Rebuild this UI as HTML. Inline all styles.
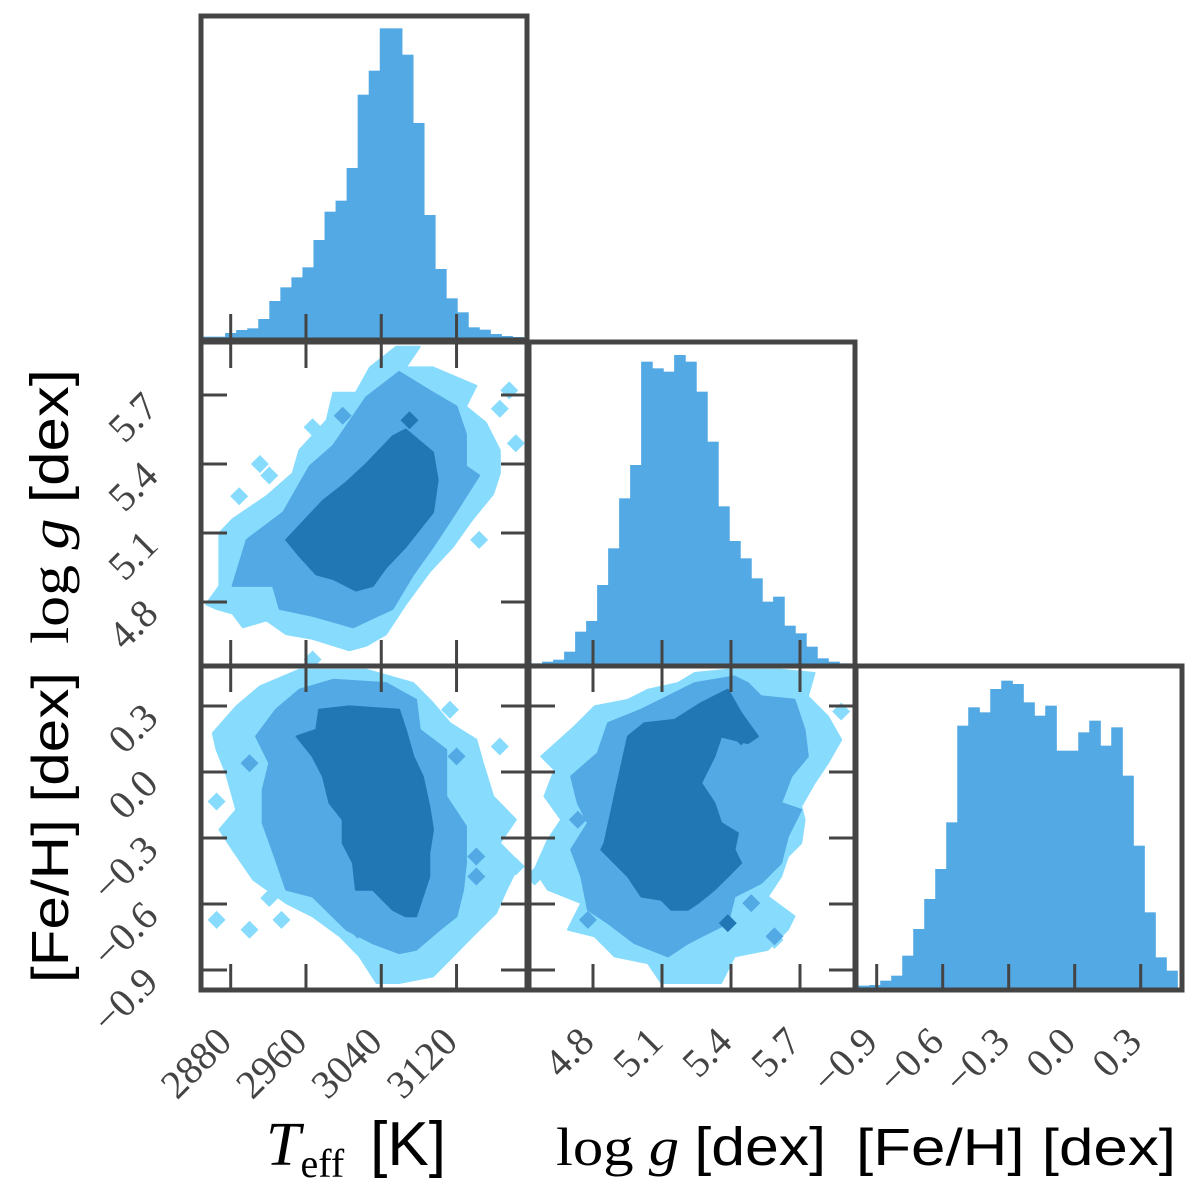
<!DOCTYPE html>
<html><head><meta charset="utf-8"><style>
html,body{margin:0;padding:0;background:#fff;}
svg{display:block;}
.tl{font-family:"Liberation Serif",serif;font-size:40px;fill:#444;}
.al{font-family:"Liberation Sans",sans-serif;font-size:52px;fill:#000;}
.as{font-family:"Liberation Serif",serif;font-size:54px;fill:#000;}
</style></head><body>
<svg id="c" width="1200" height="1195" viewBox="0 0 1200 1195" xmlns="http://www.w3.org/2000/svg">
<g id="layer"></g>
<text class="as" x="266" y="1165"><tspan font-style="italic" font-size="62">T</tspan><tspan font-size="40" dy="12">eff</tspan><tspan dy="-12" dx="26" style="font-family:'Liberation Sans',sans-serif;font-size:62px">[K]</tspan></text>
<text class="as" x="556" y="1165" textLength="270" lengthAdjust="spacingAndGlyphs">log <tspan font-style="italic">g</tspan> <tspan style="font-family:'Liberation Sans',sans-serif">[dex]</tspan></text>
<text class="al" x="856" y="1165" textLength="320" lengthAdjust="spacingAndGlyphs">[Fe/H] [dex]</text>
<text class="as" transform="translate(68,644) rotate(-90)" textLength="275" lengthAdjust="spacingAndGlyphs">log <tspan font-style="italic">g</tspan> <tspan style="font-family:'Liberation Sans',sans-serif">[dex]</tspan></text>
<text class="al" transform="translate(68,983) rotate(-90)" textLength="311" lengthAdjust="spacingAndGlyphs">[Fe/H] [dex]</text>
</svg>
<script>
// ---- data ----
const teffTicks = [2880, 2960, 3040, 3120];
const loggTicks = [4.8, 5.1, 5.4, 5.7];
const fehTicks = [-0.9, -0.6, -0.3, 0.0, 0.3];
const teffTickLabels = ["2880", "2960", "3040", "3120"];
const loggTickLabels = ["4.8", "5.1", "5.4", "5.7"];
const fehTickLabels = ["\u22120.9", "\u22120.6", "\u22120.3", "0.0", "0.3"];
const teffRange = [2850.6, 3191];
const loggRange = [4.531, 5.918];
const fehRange = [-0.984, 0.466];
const teffCounts = [4,4,15,24,29,57,111,152,182,212,294,379,412,510,730,802,929,929,850,645,369,207,119,77,32,25,12,6,3];
const loggCounts = [2,7,13,37,97,129,237,347,497,597,907,887,877,927,907,817,667,473,369,317,257,187,202,115,92,52,17,7,2];
const fehCounts = [7,9,22,37,97,177,267,357,497,787,842,827,897,922,912,857,817,847,712,712,767,802,727,782,637,427,227,92,52];
// contour polygons (x value, y value pairs)
const tgOuter = [[2854,4.79],[2868,4.87],[2868,5.10],[2882,5.16],[2918,5.26],[2946,5.36],[2953,5.46],[2982,5.59],[2989,5.71],[3013,5.71],[3028,5.82],[3056,5.91],[3081,5.91],[3066,5.82],[3095,5.82],[3141,5.74],[3130,5.65],[3151,5.58],[3166,5.46],[3166,5.36],[3159,5.27],[3137,5.16],[3116,5.04],[3091,4.93],[3066,4.79],[3045,4.66],[3024,4.61],[3006,4.59],[2967,4.64],[2939,4.66],[2918,4.72],[2893,4.69],[2882,4.75],[2865,4.77]];
const tgOuterBlobs = [[3176,5.72],[3166,5.64],[3183,5.49],[2889,5.26],[2911,5.40],[2921,5.35],[2967,5.56],[3144,5.07],[2967,4.55]];
const tgMid = [[2882,4.87],[2897,5.07],[2936,5.19],[2964,5.39],[2989,5.48],[3024,5.69],[3059,5.80],[3095,5.71],[3120,5.65],[3130,5.53],[3130,5.39],[3144,5.35],[3116,5.17],[3095,5.04],[3074,4.92],[3052,4.77],[3010,4.69],[2967,4.74],[2932,4.77],[2925,4.87]];
const tgMidBlobs = [[2999,5.61]];
const tgInner = [[2939,5.07],[2978,5.24],[3003,5.32],[3024,5.40],[3038,5.46],[3052,5.52],[3066,5.55],[3095,5.45],[3100,5.33],[3095,5.19],[3066,5.04],[3045,4.95],[3031,4.87],[3013,4.85],[2989,4.90],[2971,4.92],[2953,5.00]];
const tgInnerBlobs = [[3070,5.59]];
const tfOuter = [[2861,0.177],[2886,0.298],[2911,0.389],[2953,0.465],[3024,0.465],[3074,0.404],[3095,0.313],[3113,0.222],[3141,0.147],[3148,0.040],[3159,-0.111],[3183,-0.217],[3166,-0.323],[3187,-0.414],[3173,-0.535],[3162,-0.641],[3137,-0.747],[3116,-0.838],[3095,-0.929],[3059,-0.959],[3035,-0.959],[3017,-0.838],[2996,-0.747],[2967,-0.656],[2939,-0.596],[2904,-0.490],[2882,-0.353],[2868,-0.262],[2886,-0.172],[2875,-0.005],[2865,0.101]];
const tfOuterBlobs = [[2865,-0.134],[2865,-0.672],[2900,-0.717],[2921,-0.573],[2934,-0.672],[3113,0.283],[3166,0.116],[3183,-0.429]];
const tfMid = [[2907,0.162],[2928,0.283],[2953,0.374],[2989,0.419],[3045,0.404],[3077,0.328],[3081,0.192],[3109,0.101],[3109,-0.111],[3130,-0.247],[3130,-0.414],[3127,-0.535],[3120,-0.656],[3102,-0.717],[3077,-0.808],[3059,-0.823],[3031,-0.778],[3003,-0.717],[2967,-0.566],[2939,-0.535],[2928,-0.399],[2914,-0.232],[2914,-0.081],[2921,0.040]];
const tfMidBlobs = [[2900,0.040],[3120,0.071],[3141,-0.384],[3141,-0.475],[3015,-0.717],[3028,0.313]];
const tfInner = [[2950,0.162],[2971,0.192],[2974,0.283],[3006,0.298],[3059,0.283],[3066,0.192],[3074,0.071],[3084,-0.020],[3091,-0.156],[3095,-0.262],[3091,-0.368],[3091,-0.475],[3084,-0.566],[3077,-0.656],[3066,-0.656],[3052,-0.626],[3031,-0.535],[3013,-0.535],[3010,-0.414],[2999,-0.323],[2999,-0.217],[2985,-0.141],[2978,-0.020],[2967,0.071]];
const tfInnerBlobs = [];
const gfOuter = [[4.575,0.071],[4.720,0.207],[4.807,0.298],[4.952,0.328],[5.039,0.374],[5.169,0.404],[5.242,0.450],[5.386,0.465],[5.618,0.465],[5.763,0.450],[5.734,0.344],[5.821,0.253],[5.879,0.147],[5.821,0.040],[5.763,-0.050],[5.705,-0.156],[5.720,-0.217],[5.705,-0.323],[5.647,-0.384],[5.618,-0.475],[5.560,-0.566],[5.676,-0.656],[5.647,-0.717],[5.560,-0.808],[5.415,-0.838],[5.357,-0.959],[5.097,-0.959],[5.039,-0.869],[4.894,-0.838],[4.807,-0.747],[4.691,-0.717],[4.749,-0.596],[4.604,-0.535],[4.546,-0.444],[4.604,-0.308],[4.662,-0.217],[4.589,-0.111],[4.633,0.010]];
const gfOuterBlobs = [[5.879,0.275],[4.546,-0.475],[5.589,-0.763]];
const gfMid = [[4.705,-0.020],[4.821,0.086],[4.865,0.222],[5.010,0.283],[5.242,0.404],[5.415,0.434],[5.473,0.404],[5.531,0.344],[5.676,0.328],[5.720,0.192],[5.734,0.071],[5.662,-0.020],[5.618,-0.141],[5.705,-0.172],[5.647,-0.293],[5.618,-0.414],[5.531,-0.505],[5.415,-0.566],[5.386,-0.687],[5.271,-0.747],[5.213,-0.778],[5.126,-0.838],[4.981,-0.778],[4.865,-0.687],[4.778,-0.626],[4.749,-0.475],[4.705,-0.353],[4.778,-0.232],[4.734,-0.141]];
const gfMidBlobs = [[4.734,-0.217],[4.778,-0.672],[5.488,-0.596],[5.589,-0.747]];
const gfInner = [[4.850,-0.323],[4.894,-0.111],[4.952,0.162],[5.024,0.222],[5.155,0.237],[5.270,0.313],[5.386,0.374],[5.444,0.268],[5.517,0.162],[5.473,0.131],[5.357,0.162],[5.328,0.071],[5.270,-0.050],[5.328,-0.141],[5.357,-0.232],[5.430,-0.278],[5.415,-0.353],[5.444,-0.414],[5.386,-0.475],[5.328,-0.535],[5.256,-0.596],[5.213,-0.626],[5.140,-0.626],[5.097,-0.581],[5.010,-0.566],[4.952,-0.475],[4.894,-0.414],[4.836,-0.353]];
const gfInnerBlobs = [[5.386,-0.687],[5.444,0.162]];

// ---- layout / scales ----
const NS = "http://www.w3.org/2000/svg";
const layer = document.getElementById('layer');
const colX = [203, 531, 858], rowY = [18, 344, 668], W = 322, H = 320;
const sx = [v => 230.7 + (v - 2880) * 0.941, v => 593 + (v - 4.8) * 230, v => 876.7 + (v + 0.9) * 220];
const sy = [null, v => 395 - (v - 5.7) * 230, v => 706 - (v - 0.3) * 220];
const C_LIGHT = "#87dcfd", C_MID = "#52a9e4", C_DARK = "#2077b4", AX = "#444";
function mk(tag, attrs, parent) {
  const e = document.createElementNS(NS, tag);
  for (const k in attrs) e.setAttribute(k, attrs[k]);
  (parent || layer).appendChild(e);
  return e;
}
function clipFor(c, r) {
  const id = 'clip' + c + r;
  const cp = mk('clipPath', {id: id});
  mk('rect', {x: colX[c], y: rowY[r], width: W, height: H}, cp);
  return 'url(#' + id + ')';
}
function hist(c, counts, range) {
  const g = mk('g', {'clip-path': clipFor(c, c)});
  
  
  const bottom = rowY[c] + H;
  const bw = (range[1] - range[0]) / counts.length;
  for (let i = 0; i < counts.length; i++) {
    const x0 = sx[c](range[0] + i * bw), x1 = sx[c](range[0] + (i + 1) * bw);
    const h = counts[i] / 3;
    const rct = mk('rect', {x: x0, y: bottom - h, width: x1 - x0 + 0.6, height: h, fill: C_MID}, g);
    
    
  }
}
function poly(g, pts, c, r, fill) {
  const d = pts.map((p, i) => (i ? 'L' : 'M') + sx[c](p[0]).toFixed(1) + ',' + sy[r](p[1]).toFixed(1)).join('') + 'Z';
  const p = mk('path', {d: d, fill: fill, 'stroke': fill, 'stroke-width': 2, 'stroke-linejoin': 'round'}, g);
  
  
}
function blobs(g, pts, c, r, fill) {
  pts.forEach(p => {
    const x = sx[c](p[0]), y = sy[r](p[1]), s = 9;
    const b = mk('path', {d: `M${x},${y - s}L${x + s},${y}L${x},${y + s}L${x - s},${y}Z`, fill: fill}, g);
    
    
  });
}
function contour(c, r, outer, ob, mid, mb, inner, ib) {
  const g = mk('g', {'clip-path': clipFor(c, r)});
  
  
  poly(g, outer, c, r, C_LIGHT); blobs(g, ob, c, r, C_LIGHT);
  poly(g, mid, c, r, C_MID); blobs(g, mb, c, r, C_MID);
  poly(g, inner, c, r, C_DARK); blobs(g, ib, c, r, C_DARK);
}
hist(0, teffCounts, teffRange);
hist(1, loggCounts, loggRange);
hist(2, fehCounts, fehRange);
contour(0, 1, tgOuter, tgOuterBlobs, tgMid, tgMidBlobs, tgInner, tgInnerBlobs);
contour(0, 2, tfOuter, tfOuterBlobs, tfMid, tfMidBlobs, tfInner, tfInnerBlobs);
contour(1, 2, gfOuter, gfOuterBlobs, gfMid, gfMidBlobs, gfInner, gfInnerBlobs);

const xTicks = [teffTicks, loggTicks, fehTicks];
const xLabels = [teffTickLabels, loggTickLabels, fehTickLabels];
const yTicks = [null, loggTicks, fehTicks];
const yLabels = [null, loggTickLabels, fehTickLabels];
const TL = 24;
for (let r = 0; r < 3; r++) {
  for (let c = 0; c <= r; c++) {
    const x0 = colX[c], y0 = rowY[r], x1 = x0 + W, y1 = y0 + H;
    xTicks[c].forEach(v => {
      const x = sx[c](v);
      if (x < x0 || x > x1) return;
      const t = mk('line', {x1: x, x2: x, y1: y1, y2: y1 - TL, stroke: AX, 'stroke-width': 3});
      
      
      if (r !== c) {
        const t2 = mk('line', {x1: x, x2: x, y1: y0, y2: y0 + TL, stroke: AX, 'stroke-width': 3});
        
        
      }
    });
    if (r !== c) {
      yTicks[r].forEach(v => {
        const y = sy[r](v);
        if (y < y0 || y > y1) return;
        const t = mk('line', {x1: x0, x2: x0 + TL, y1: y, y2: y, stroke: AX, 'stroke-width': 3});
        
        
        const t2 = mk('line', {x1: x1, x2: x1 - TL, y1: y, y2: y, stroke: AX, 'stroke-width': 3});
        
        
      });
    }
    const fr = mk('rect', {x: x0 - 2, y: y0 - 2, width: W + 4, height: H + 4, fill: 'none', stroke: AX, 'stroke-width': 5});
    
    
  }
}
for (let c = 0; c < 3; c++) {
  xTicks[c].forEach((v, i) => {
    const x = sx[c](v) + 3, y = 1044;
    const t = mk('text', {x: x, y: y, 'text-anchor': 'end', class: 'tl', transform: `rotate(-45 ${x} ${y})`});
    t.textContent = xLabels[c][i];
    
    
  });
}
for (let r = 1; r < 3; r++) {
  yTicks[r].forEach((v, i) => {
    const x = 160, y = sy[r](v) + 14;
    const t = mk('text', {x: x, y: y, 'text-anchor': 'end', class: 'tl', transform: `rotate(-45 ${x} ${y})`});
    t.textContent = yLabels[r][i];
    
    
  });
}
</script>
</body></html>
